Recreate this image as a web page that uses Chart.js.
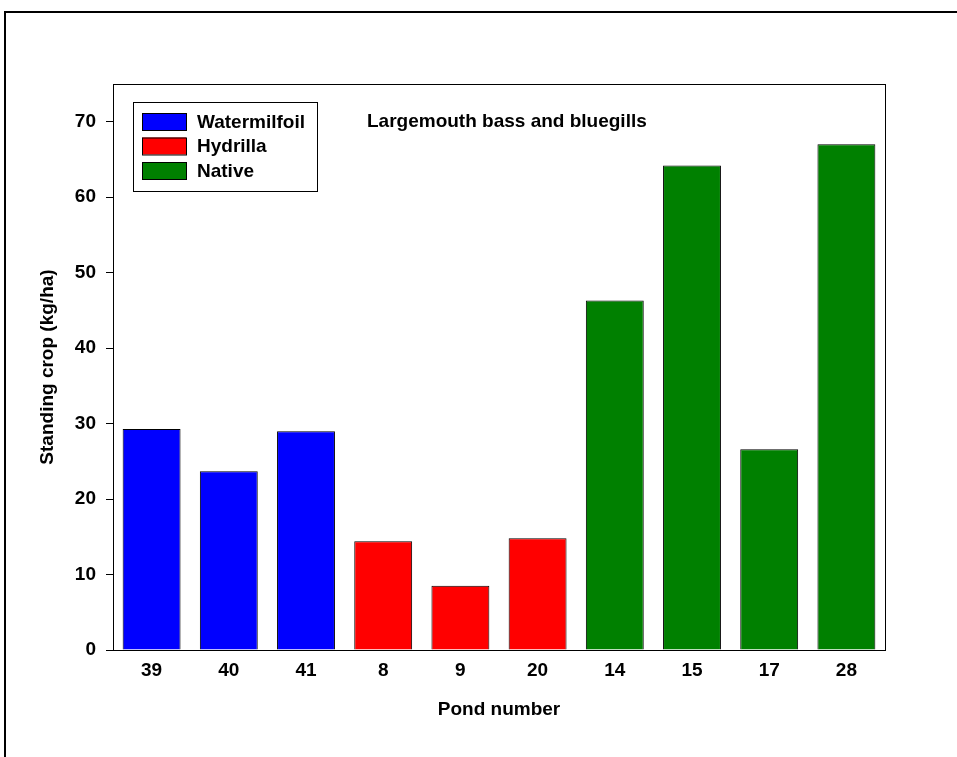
<!DOCTYPE html>
<html>
<head>
<meta charset="utf-8">
<script src="https://cdn.jsdelivr.net/npm/chart.js@4"></script>
<style>
  body { margin: 0; background: #fff; }
  canvas { display: block; }
</style>
</head>
<body>
<canvas id="pondChart" width="957" height="757"></canvas>
<script>
/* Standing crop of largemouth bass and bluegills per pond */

const ponds = ['39', '40', '41', '8', '9', '20', '14', '15', '17', '28'];
const standingCrop = [29.3, 23.7, 29.0, 14.4, 8.5, 14.8, 46.3, 64.2, 26.6, 67.0];
const plantType = ['Watermilfoil', 'Watermilfoil', 'Watermilfoil', 'Hydrilla', 'Hydrilla', 'Hydrilla',
  'Native', 'Native', 'Native', 'Native'];
const plantNames = ['Watermilfoil', 'Hydrilla', 'Native'];
const plantColors = ['#0000ff', '#ff0000', '#008000'];
const yTicks = [0, 10, 20, 30, 40, 50, 60, 70];
const chartTitle = 'Largemouth bass and bluegills';

const FONT = "'Liberation Sans', Arial, sans-serif";

// one dataset per plant type, other ponds left empty
const datasets = plantNames.map((name, i) => ({
  label: name,
  data: standingCrop.map((v, j) => plantType[j] === name ? v : null),
  backgroundColor: plantColors[i],
  borderColor: '#000',
  borderWidth: 1,
  grouped: false,
  barPercentage: 0.75,
  categoryPercentage: 1
}));

// outer frame of the figure, box round the plot, legend and title inside
const decorations = {
  id: 'decorations',
  beforeDraw(chart) {
    const ctx = chart.ctx;
    ctx.save();
    ctx.strokeStyle = '#000';
    ctx.lineWidth = 2;
    ctx.beginPath();
    ctx.moveTo(5, 757);
    ctx.lineTo(5, 12);
    ctx.lineTo(960, 12);
    ctx.stroke();
    ctx.restore();
  },
  afterDraw(chart) {
    const ctx = chart.ctx;
    const area = chart.chartArea;
    ctx.save();
    ctx.strokeStyle = '#000';
    ctx.lineWidth = 1;
    ctx.strokeRect(Math.round(area.left) + 0.5, Math.round(area.top) + 0.5,
      Math.round(area.right - area.left), Math.round(area.bottom - area.top));

    // legend
    const lx = area.left + 20, ly = area.top + 18;
    ctx.strokeRect(lx + 0.5, ly + 0.5, 184, 89);
    ctx.font = 'bold 19px ' + FONT;
    ctx.textBaseline = 'middle';
    ctx.textAlign = 'left';
    chart.data.datasets.forEach((ds, i) => {
      const cy = ly + 19.5 + i * 24.5;
      ctx.fillStyle = ds.backgroundColor;
      ctx.fillRect(lx + 9, cy - 8.5, 44, 17);
      ctx.strokeRect(lx + 9.5, cy - 8, 44, 17);
      ctx.fillStyle = '#000';
      ctx.fillText(ds.label, lx + 64, cy + 1);
    });

    // title inside the plot
    ctx.fillText(chartTitle, area.left + 254, area.top + 38);
    ctx.restore();
  }
};

const pondGraph = document.getElementById('pondChart');

const pondConfig = {
  type: 'bar',
  data: {
    labels: ponds,
    datasets: datasets
  },
  options: {
    responsive: false,
    devicePixelRatio: 1,
    animation: false,
    layout: {
      padding: { top: 84, right: 72, left: 0, bottom: 0 }
    },
    plugins: {
      legend: { display: false },
      tooltip: { enabled: false }
    },
    scales: {
      x: {
        afterFit(scale) { scale.height = 107; },
        grid: { display: false, drawTicks: false },
        border: { display: true, color: '#000' },
        ticks: {
          color: '#000',
          padding: 9,
          font: { family: FONT, size: 19, weight: 'bold' }
        },
        title: {
          display: true,
          text: 'Pond number',
          color: '#000',
          padding: { top: 0, bottom: 36 },
          font: { family: FONT, size: 19, weight: 'bold' }
        }
      },
      y: {
        min: 0,
        max: 75,
        afterFit(scale) { scale.width = 113; },
        afterBuildTicks(scale) { scale.ticks = yTicks.map(v => ({ value: v })); },
        grid: {
          drawOnChartArea: false,
          drawTicks: true,
          tickLength: 7,
          color: '#000'
        },
        border: { display: true, color: '#000' },
        ticks: {
          color: '#000',
          padding: 10,
          font: { family: FONT, size: 19, weight: 'bold' }
        },
        title: {
          display: true,
          text: 'Standing crop (kg/ha)',
          color: '#000',
          padding: { top: 36, bottom: 0 },
          font: { family: FONT, size: 19, weight: 'bold' }
        }
      }
    }
  },
  plugins: [decorations]
};

new Chart(pondGraph, pondConfig);
</script>
</body>
</html>
